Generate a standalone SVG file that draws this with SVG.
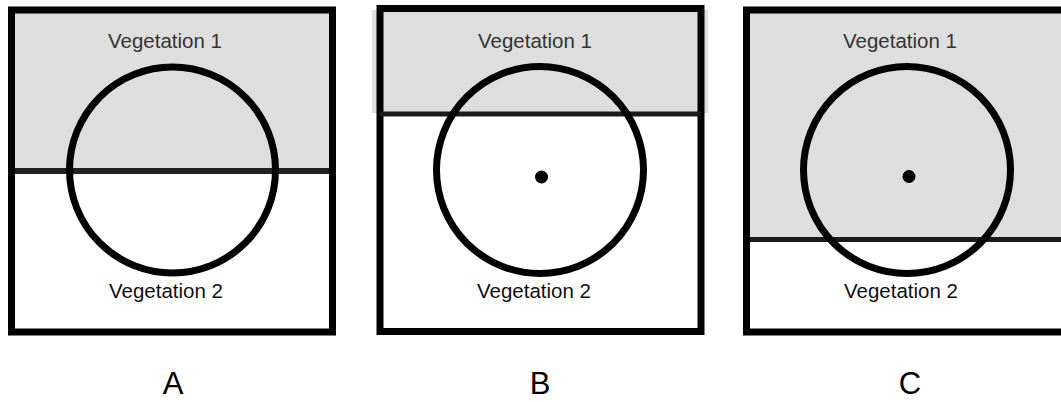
<svg xmlns="http://www.w3.org/2000/svg" width="1061" height="402" viewBox="0 0 1061 402">
<style>
.frame{fill:none;stroke:#000;stroke-width:7}
.veg1{fill:#dedede}
.sep{stroke:#1a1a1a;stroke-width:5}
.ring{fill:none;stroke:#000;stroke-width:7}
.lbl{font-family:"Liberation Sans",Arial,sans-serif;font-size:20.5px;text-anchor:middle}
.t1{fill:#333}
.t2{fill:#111}
.cap{font-family:"Liberation Sans",Arial,sans-serif;font-size:31px;text-anchor:middle;fill:#000}
</style>
<rect width="1061" height="402" fill="#fff"/>
<g id="panelA">
<rect class="veg1" x="13" y="12" width="318" height="159"/>
<line class="sep" x1="11.5" y1="171" x2="332.5" y2="171" style="stroke:#222;stroke-width:6"/>
<rect class="frame" x="11.5" y="10" width="321" height="322"/>
<circle class="ring" cx="172.5" cy="170" r="103"/>
<text class="lbl t1" x="165" y="48">Vegetation 1</text>
<text class="lbl t2" x="166" y="298">Vegetation 2</text>
<text class="cap" x="173" y="394">A</text>
</g>
<g id="panelB">
<rect class="veg1" x="372" y="10" width="336" height="103"/>
<rect class="frame" x="380" y="8.5" width="321" height="323"/>
<line class="sep" x1="380" y1="114" x2="701" y2="114"/>
<circle class="ring" cx="540" cy="170" r="103.5"/>
<circle cx="541.5" cy="177" r="6.5" fill="#000"/>
<text class="lbl t1" x="535" y="48">Vegetation 1</text>
<text class="lbl t2" x="534" y="298">Vegetation 2</text>
<text class="cap" x="540" y="394">B</text>
</g>
<g id="panelC">
<rect class="veg1" x="750" y="13" width="320" height="226"/>
<line class="sep" x1="746.5" y1="239.5" x2="1070" y2="239.5"/>
<rect class="frame" x="746.5" y="10" width="330" height="322"/>
<circle class="ring" cx="907" cy="170" r="103.5"/>
<circle cx="909" cy="176.5" r="6.5" fill="#000"/>
<text class="lbl t1" x="900" y="48">Vegetation 1</text>
<text class="lbl t2" x="901" y="298">Vegetation 2</text>
<text class="cap" x="910" y="394">C</text>
</g>
<g id="connectors"></g>
</svg>
